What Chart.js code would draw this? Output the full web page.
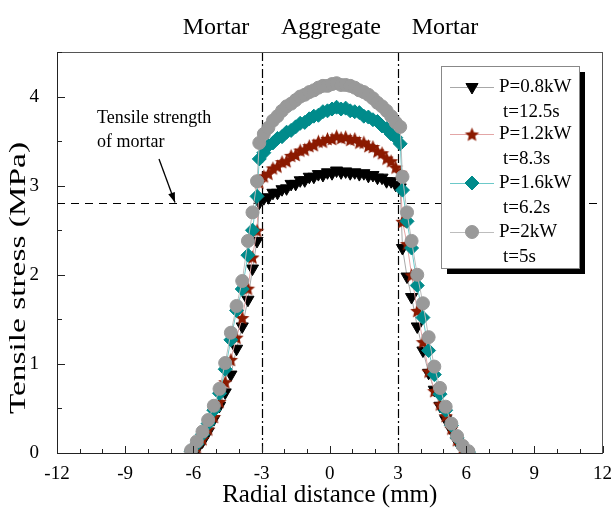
<!DOCTYPE html>
<html>
<head>
<meta charset="utf-8">
<script src="https://cdn.jsdelivr.net/npm/chart.js@4.4.0/dist/chart.umd.min.js"></script>
<style>
  html, body { margin: 0; padding: 0; background: #fff; }
  #wrap { width: 614px; height: 511px; }
</style>
</head>
<body>
<div id="wrap"><canvas id="chart" width="614" height="511"></canvas></div>
<script>
var xTicks = [-12, -9, -6, -3, 0, 3, 6, 9, 12];
var yTicks = [0, 1, 2, 3, 4];
var seriesNames = ['P=0.8kW', 'P=1.2kW', 'P=1.6kW', 'P=2kW'];
var seriesTimes = ['t=12.5s', 't=8.3s', 't=6.2s', 't=5s'];
var zoneLabels = ['Mortar', 'Aggregate', 'Mortar'];
var mortarStrength = 2.8;
var interfaces = [-3, 3];

// radial positions (mm)
var xLeft = [-6.1, -5.85, -5.6, -5.35, -5.1, -4.85, -4.6, -4.35, -4.1, -3.85, -3.6, -3.4, -3.2];
var xAgg = [-3.1, -2.9, -2.7, -2.5, -2.3, -2.1, -1.9, -1.7, -1.5, -1.3, -1.1, -0.9, -0.7, -0.5, -0.3, -0.1,
            0.1, 0.3, 0.5, 0.7, 0.9, 1.1, 1.3, 1.5, 1.7, 1.9, 2.1, 2.3, 2.5, 2.7, 2.9, 3.1];
var xRight = [3.2, 3.4, 3.6, 3.85, 4.1, 4.35, 4.6, 4.85, 5.1, 5.35, 5.6, 5.85, 6.1];

// tensile stress (MPa)
var blackLeft = [0.0, 0.04, 0.13, 0.24, 0.38, 0.53, 0.68, 0.88, 1.17, 1.42, 1.72, 2.07, 2.38];
var blackAgg = [2.81, 2.86, 2.87, 2.92, 2.92, 2.96, 2.97, 3.02, 3.02, 3.06, 3.06, 3.10, 3.10, 3.13, 3.12, 3.15,
                3.14, 3.17, 3.15, 3.16, 3.14, 3.15, 3.13, 3.14, 3.11, 3.12, 3.09, 3.09, 3.05, 3.05, 3.01, 2.98];
var blackRight = [2.3, 1.98, 1.75, 1.42, 1.15, 0.9, 0.71, 0.53, 0.38, 0.26, 0.13, 0.04, 0.0];

var redLeft = [0.0, 0.07, 0.16, 0.27, 0.41, 0.58, 0.8, 1.05, 1.3, 1.52, 1.85, 2.2, 2.5];
var redAgg = [3.04, 3.11, 3.14, 3.20, 3.22, 3.27, 3.28, 3.34, 3.35, 3.40, 3.41, 3.45, 3.46, 3.50, 3.50, 3.53,
              3.53, 3.56, 3.54, 3.55, 3.52, 3.53, 3.49, 3.49, 3.45, 3.44, 3.39, 3.37, 3.31, 3.28, 3.21, 3.15];
var redRight = [2.6, 2.35, 2.0, 1.6, 1.25, 0.92, 0.7, 0.55, 0.42, 0.28, 0.15, 0.06, 0.0];

var tealLeft = [0.02, 0.1, 0.21, 0.33, 0.48, 0.67, 0.94, 1.27, 1.6, 1.84, 2.22, 2.5, 2.88];
var tealAgg = [3.30, 3.37, 3.45, 3.48, 3.53, 3.55, 3.60, 3.62, 3.66, 3.70, 3.71, 3.75, 3.78, 3.79, 3.83, 3.84,
               3.86, 3.88, 3.86, 3.87, 3.84, 3.83, 3.82, 3.78, 3.77, 3.74, 3.72, 3.67, 3.64, 3.58, 3.54, 3.47];
var tealRight = [2.95, 2.6, 2.3, 1.88, 1.52, 1.15, 0.88, 0.66, 0.48, 0.31, 0.17, 0.07, 0.01];

var grayLeft = [0.03, 0.13, 0.24, 0.37, 0.53, 0.72, 1.01, 1.35, 1.65, 1.93, 2.38, 2.7, 3.05];
var grayAgg = [3.48, 3.58, 3.65, 3.73, 3.78, 3.84, 3.89, 3.92, 3.96, 4.00, 4.02, 4.05, 4.07, 4.10, 4.12, 4.12,
               4.14, 4.15, 4.13, 4.13, 4.12, 4.10, 4.07, 4.05, 4.02, 3.98, 3.93, 3.89, 3.84, 3.78, 3.71, 3.66];
var grayRight = [3.1, 2.7, 2.38, 2.0, 1.68, 1.3, 0.97, 0.73, 0.52, 0.33, 0.19, 0.08, 0.02];

var serif = '"Liberation Serif", "Times New Roman", serif';

function pts(xs, ys) {
  var out = [];
  for (var i = 0; i < xs.length; i++) out.push({x: xs[i], y: ys[i]});
  return out;
}
function joined(l, a, r) {
  return pts(xLeft, l).concat(pts(xAgg, a), pts(xRight, r));
}

function makeStar(r, color) {
  var s = Math.ceil(r * 2) + 2;
  var c = document.createElement('canvas');
  c.width = s; c.height = s;
  var g = c.getContext('2d');
  g.fillStyle = color;
  g.beginPath();
  for (var i = 0; i < 10; i++) {
    var rad = i % 2 == 0 ? r : r * 0.45;
    var a = -Math.PI / 2 + i * Math.PI / 5;
    var px = s / 2 + rad * Math.cos(a), py = s / 2 + 1 + rad * Math.sin(a);
    if (i == 0) g.moveTo(px, py); else g.lineTo(px, py);
  }
  g.closePath();
  g.fill();
  return c;
}
var star = makeStar(7.5, '#8b1a00');

var datasets = [
  {label: seriesNames[0], data: joined(blackLeft, blackAgg, blackRight), order: 4,
   borderColor: '#a8a8a8', pointBackgroundColor: '#000', pointBorderColor: '#000',
   pointStyle: 'triangle', rotation: 180, pointRadius: 7},
  {label: seriesNames[1], data: joined(redLeft, redAgg, redRight), order: 3,
   borderColor: '#e3a6a6', pointBackgroundColor: '#8b1a00', pointBorderColor: '#8b1a00',
   pointStyle: star, pointRadius: 7},
  {label: seriesNames[2], data: joined(tealLeft, tealAgg, tealRight), order: 2,
   borderColor: '#6cc9c9', pointBackgroundColor: '#008b8b', pointBorderColor: '#008b8b',
   pointStyle: 'rectRot', pointRadius: 7},
  {label: seriesNames[3], data: joined(grayLeft, grayAgg, grayRight), order: 1,
   borderColor: '#bdbdbd', pointBackgroundColor: '#999999', pointBorderColor: '#999999',
   pointStyle: 'circle', pointRadius: 6.5}
];
datasets.forEach(function(d) {
  d.showLine = true;
  d.borderWidth = 1;
  d.pointBorderWidth = 1;
});

var guides = {
  id: 'guides',
  beforeDatasetsDraw: function(chart) {
    var ctx = chart.ctx, a = chart.chartArea;
    var xs = chart.scales.x, ys = chart.scales.y;
    ctx.save();
    ctx.strokeStyle = '#000';
    ctx.lineWidth = 1.2;
    ctx.setLineDash([8, 6]);
    var yy = Math.round(ys.getPixelForValue(mortarStrength)) + 0.5;
    ctx.beginPath(); ctx.moveTo(a.left, yy); ctx.lineTo(a.right, yy); ctx.stroke();
    ctx.setLineDash([9, 3, 2, 3]);
    interfaces.forEach(function(v) {
      var px = Math.round(xs.getPixelForValue(v)) + 0.5;
      ctx.beginPath(); ctx.moveTo(px, a.top); ctx.lineTo(px, a.bottom); ctx.stroke();
    });
    ctx.restore();
  },
  afterDraw: function(chart) {
    var ctx = chart.ctx, a = chart.chartArea;
    var xs = chart.scales.x, ys = chart.scales.y;
    ctx.save();

    // frame
    ctx.strokeStyle = '#555';
    ctx.lineWidth = 1;
    ctx.strokeRect(Math.round(a.left) + 0.5, Math.round(a.top) + 0.5,
                   Math.round(a.right - a.left) - 1, Math.round(a.bottom - a.top));
    ctx.strokeStyle = '#222';
    ctx.beginPath();
    ctx.moveTo(a.left + 0.5, a.top); ctx.lineTo(a.left + 0.5, a.bottom + 0.5);
    ctx.lineTo(a.right, a.bottom + 0.5);
    ctx.stroke();

    // inward ticks
    ctx.beginPath();
    for (var v = -12; v <= 12; v++) {
      var px = Math.round(xs.getPixelForValue(v)) + 0.5;
      var len = v % 3 == 0 ? 7 : 4;
      ctx.moveTo(px, a.bottom); ctx.lineTo(px, a.bottom - len);
    }
    for (var k = 0; k <= 9; k++) {
      var py = Math.round(ys.getPixelForValue(k * 0.5)) + 0.5;
      var ln = k % 2 == 0 ? 8 : 5;
      ctx.moveTo(a.left, py); ctx.lineTo(a.left + ln, py);
    }
    ctx.stroke();

    // zone labels
    ctx.fillStyle = '#000';
    ctx.font = '24px ' + serif;
    ctx.textAlign = 'center';
    ctx.textBaseline = 'alphabetic';
    ctx.fillText(zoneLabels[0], 216, 34);
    ctx.fillText(zoneLabels[1], 331, 34);
    ctx.fillText(zoneLabels[2], 445, 34);

    // y title, stretched to the reference length
    ctx.save();
    ctx.translate(19, 278);
    ctx.rotate(-Math.PI / 2);
    ctx.font = '23px ' + serif;
    ctx.textAlign = 'center';
    ctx.textBaseline = 'middle';
    var tw = ctx.measureText('Tensile stress (MPa)').width;
    ctx.scale(272 / tw, 1);
    ctx.fillText('Tensile stress (MPa)', 0, 0);
    ctx.restore();

    // strength note with arrow
    ctx.font = '18px ' + serif;
    ctx.textAlign = 'left';
    ctx.textBaseline = 'middle';
    ctx.fillText('Tensile strength', 97, 118);
    ctx.fillText('of mortar', 97, 142);
    var x0 = 159, y0 = 159, x1 = 175, y1 = ys.getPixelForValue(mortarStrength) - 1;
    ctx.strokeStyle = '#000';
    ctx.lineWidth = 1.3;
    ctx.beginPath(); ctx.moveTo(x0, y0); ctx.lineTo(x1, y1); ctx.stroke();
    var ang = Math.atan2(y1 - y0, x1 - x0);
    ctx.beginPath();
    ctx.moveTo(x1, y1);
    ctx.lineTo(x1 - 10 * Math.cos(ang) + 3.5 * Math.sin(ang), y1 - 10 * Math.sin(ang) - 3.5 * Math.cos(ang));
    ctx.lineTo(x1 - 10 * Math.cos(ang) - 3.5 * Math.sin(ang), y1 - 10 * Math.sin(ang) + 3.5 * Math.cos(ang));
    ctx.closePath();
    ctx.fill();

    // legend box with shadow
    var lx = 441, ly = 66, lw = 138, lh = 202;
    ctx.fillStyle = '#000';
    ctx.fillRect(lx + 6, ly + 6, lw, lh);
    ctx.fillStyle = '#fff';
    ctx.fillRect(lx, ly, lw, lh);
    ctx.strokeStyle = '#888';
    ctx.lineWidth = 1;
    ctx.strokeRect(lx + 0.5, ly + 0.5, lw, lh);

    var rows = [87, 134, 183, 232];
    ctx.font = '19px ' + serif;
    chart.data.datasets.forEach(function(ds, i) {
      var ry = rows[i];
      ctx.strokeStyle = ds.borderColor;
      ctx.lineWidth = 1;
      ctx.beginPath(); ctx.moveTo(450, ry + 0.5); ctx.lineTo(494, ry + 0.5); ctx.stroke();
      ctx.fillStyle = ds.pointBackgroundColor;
      ctx.strokeStyle = ds.pointBorderColor;
      Chart.helpers.drawPoint(ctx, {pointStyle: ds.pointStyle, rotation: ds.rotation || 0,
        radius: ds.pointRadius, borderWidth: 1}, 472, ry);
      ctx.fillStyle = '#000';
      ctx.textAlign = 'left';
      ctx.textBaseline = 'middle';
      ctx.fillText(seriesNames[i], 499, ry);
      ctx.fillText(seriesTimes[i], 503, ry + 25);
    });
    ctx.restore();
  }
};

var chart = new Chart(document.getElementById('chart'), {
  type: 'scatter',
  data: {datasets: datasets},
  options: {
    responsive: false,
    animation: false,
    devicePixelRatio: 1,
    layout: {padding: {top: 52, right: 9, left: 0, bottom: 0}},
    plugins: {legend: {display: false}, tooltip: {enabled: false}},
    scales: {
      x: {
        type: 'linear', min: -12, max: 12,
        grid: {display: false}, border: {display: false},
        afterBuildTicks: function(scale) { scale.ticks = xTicks.map(function(v) { return {value: v}; }); },
        afterFit: function(scale) { scale.height = 58; },
        ticks: {color: '#000', font: {family: serif, size: 19}, padding: 2, autoSkip: false, maxRotation: 0},
        title: {display: true, text: 'Radial distance (mm)', color: '#000',
                font: {family: serif, size: 25}, padding: {top: 0, bottom: 1}}
      },
      y: {
        min: 0, max: 4.5,
        grid: {display: false}, border: {display: false},
        afterBuildTicks: function(scale) { scale.ticks = yTicks.map(function(v) { return {value: v}; }); },
        afterFit: function(scale) { scale.width = 57; },
        ticks: {color: '#000', font: {family: serif, size: 19}, padding: 10, autoSkip: false}
      }
    }
  },
  plugins: [guides]
});
</script>
</body>
</html>
